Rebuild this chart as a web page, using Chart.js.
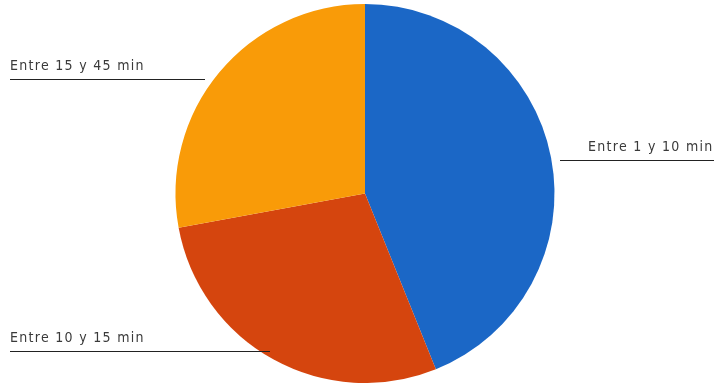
<!DOCTYPE html>
<html>
<head>
<meta charset="utf-8">
<script src="https://cdn.jsdelivr.net/npm/chart.js@4"></script>
<style>
  html, body { margin: 0; padding: 0; background: #fff; }
  #wrap { width: 714px; height: 383px; position: relative; }
</style>
</head>
<body>
<div id="wrap"><canvas id="grafico"></canvas></div>
<script>
// dati (percentuali approssimate)
const categorie = ['Entre 1 y 10 min', 'Entre 10 y 15 min', 'Entre 15 y 45 min'];
const valori = [43.9, 28.2, 27.9];
const colori = ['#1b67c6', '#d5450e', '#f99b08'];

// posizione delle etichette con linea guida (x testo, y linea, x inizio e fine linea)
const etichette = [
  { testo: categorie[0], x: 588, y: 160, x1: 560, x2: 714 },
  { testo: categorie[1], x: 10, y: 351, x1: 10, x2: 270 },
  { testo: categorie[2], x: 10, y: 79, x1: 10, x2: 205 }
];

const pluginEtichette = {
  id: 'etichette',
  afterDraw(chart) {
    const ctx = chart.ctx;
    ctx.save();
    etichette.forEach(e => {
      ctx.strokeStyle = '#222';
      ctx.lineWidth = 1.2;
      ctx.beginPath();
      ctx.moveTo(e.x1, e.y + 0.5);
      ctx.lineTo(e.x2, e.y + 0.5);
      ctx.stroke();
      ctx.fillStyle = '#3a3a3a';
      ctx.font = '14px "DejaVu Sans Condensed", "Liberation Sans Narrow", sans-serif';
      ctx.letterSpacing = '1.3px';
      ctx.textAlign = 'left';
      ctx.textBaseline = 'alphabetic';
      ctx.fillText(e.testo, e.x, e.y - 9);
    });
    ctx.restore();
  }
};

new Chart(document.getElementById('grafico'), {
  type: 'pie',
  data: {
    labels: categorie,
    datasets: [{
      data: valori,
      backgroundColor: colori,
      borderWidth: 0
    }]
  },
  options: {
    responsive: true,
    maintainAspectRatio: false,
    animation: false,
    layout: { padding: { top: 4, bottom: 0, left: 16, right: 0 } },
    plugins: { legend: { display: false }, tooltip: { enabled: false } }
  },
  plugins: [pluginEtichette]
});
</script>
</body>
</html>
